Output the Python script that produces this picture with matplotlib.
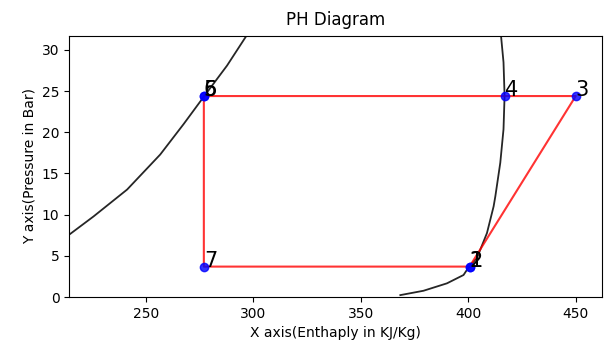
import matplotlib
matplotlib.use('Agg')
import matplotlib.pyplot as plt
import numpy as np

# saturation dome
liq_h = [214.9, 225.7, 241.3, 256.7, 267.6, 277.2, 287.8, 297.1, 300.0]
liq_p = [7.68, 9.79, 13.05, 17.3, 21.0, 24.4, 28.1, 31.83, 33.0]
vap_h = [368.4, 379.2, 390.1, 397.8, 400.6, 404.0, 408.7, 411.8, 412.6,
         414.9, 416.4, 416.9, 416.4, 415.2, 414.8]
vap_p = [0.24, 0.77, 1.67, 2.68, 3.78, 4.72, 7.77, 11.01, 12.23,
         16.3, 20.37, 24.43, 28.5, 31.83, 32.6]

# cycle state points 1..7
labels = ['1', '2', '3', '4', '5', '6', '7']
h = [400.6, 400.6, 450.0, 417.0, 277.0, 277.0, 277.0]
p = [3.7, 3.7, 24.4, 24.4, 24.4, 24.4, 3.7]

fig = plt.figure(figsize=(6.13, 3.52), dpi=100)
ax = fig.add_subplot(111)
fig.subplots_adjust(left=0.113, right=0.982, bottom=0.156, top=0.898)

ax.plot(liq_h, liq_p, color='k', alpha=0.85, lw=1.3)
ax.plot(vap_h, vap_p, color='k', alpha=0.85, lw=1.3)

# close the cycle 7 -> 1
ax.plot(h + [h[0]], p + [p[0]], color='r', alpha=0.8, lw=1.5)
ax.plot(h, p, 'o', color='b', markersize=6, alpha=0.8)
for i in range(len(labels)):
    ax.text(h[i], p[i], labels[i], fontsize=15)

ax.set_xlim(214.4, 462.2)
ax.set_ylim(0, 31.7)
ax.set_xlabel('X axis(Enthaply in KJ/Kg)')
ax.set_ylabel('Y axis(Pressure in Bar)')
ax.set_title('PH Diagram', pad=8)

plt.savefig('out.png')
